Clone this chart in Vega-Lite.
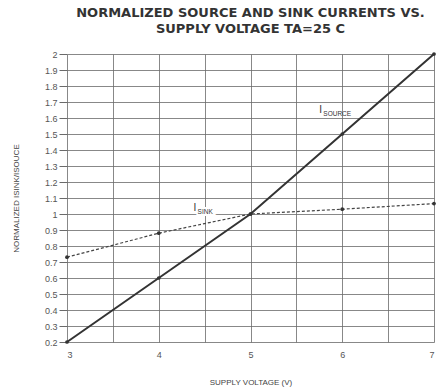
{
  "$schema": "https://vega.github.io/schema/vega-lite/v6.json",
  "width": 441,
  "height": 389,
  "autosize": {"type": "fit", "contains": "padding"},
  "padding": {"left": 12, "right": 3, "top": 7, "bottom": 3},
  "background": "white",
  "config": {
    "font": "Liberation Sans",
    "view": {"stroke": null},
    "axis": {"labelColor": "#555", "labelFontSize": 9, "titleColor": "#444", "titleFontSize": 8, "titleFontWeight": "normal", "gridColor": "#6a6a6a", "gridWidth": 0.8, "tickColor": "#6a6a6a", "domain": false, "labelOverlap": false}
  },
  "title": {
    "text": ["NORMALIZED SOURCE AND SINK CURRENTS VS.", "SUPPLY VOLTAGE TA=25 C"],
    "font": "DejaVu Sans", "fontSize": 13, "fontWeight": "bold", "color": "#333", "anchor": "middle", "frame": "group", "offset": 14, "lineHeight": 16
  },
  "datasets": {
    "curves": [
      {"v": 3, "y": 0.2, "s": "I_SOURCE"},
      {"v": 4, "y": 0.6, "s": "I_SOURCE"},
      {"v": 5, "y": 1.0, "s": "I_SOURCE"},
      {"v": 6, "y": 1.5, "s": "I_SOURCE"},
      {"v": 7, "y": 2.0, "s": "I_SOURCE"},
      {"v": 3, "y": 0.73, "s": "I_SINK"},
      {"v": 4, "y": 0.88, "s": "I_SINK"},
      {"v": 5, "y": 1.0, "s": "I_SINK"},
      {"v": 6, "y": 1.03, "s": "I_SINK"},
      {"v": 7, "y": 1.065, "s": "I_SINK"}
    ],
    "labels": [
      {"v": 5.75, "y": 1.63, "main": "I", "sub": "SOURCE"},
      {"v": 4.38, "y": 1.02, "main": "I", "sub": "SINK"}
    ]
  },
  "layer": [
    {
      "data": {"name": "curves"},
      "transform": [{"filter": "datum.s == 'I_SOURCE'"}],
      "mark": {"type": "line", "color": "#333", "strokeWidth": 2},
      "encoding": {
        "x": {"field": "v", "type": "quantitative", "scale": {"domain": [3, 7], "nice": false},
          "axis": {"title": "SUPPLY VOLTAGE (V)", "values": [3, 3.5, 4, 4.5, 5, 5.5, 6, 6.5, 7], "tickCount": 30, "format": "~g", "labelExpr": "datum.value % 1 == 0 ? datum.label : ''", "labelPadding": 8, "titlePadding": 19, "tickSize": 0}},
        "y": {"field": "y", "type": "quantitative", "scale": {"domain": [0.2, 2], "nice": false, "zero": false},
          "axis": {"title": "NORMALIZED ISINK/ISOUCE", "values": [0.2,0.3,0.4,0.5,0.6,0.7,0.8,0.9,1,1.1,1.2,1.3,1.4,1.5,1.6,1.7,1.8,1.9,2], "tickCount": 40, "format": ".2~f", "tickSize": 8, "labelPadding": 2, "titlePadding": 24}}
      }
    },
    {
      "data": {"name": "curves"},
      "transform": [{"filter": "datum.s == 'I_SINK'"}],
      "mark": {"type": "line", "color": "#444", "strokeWidth": 1.2, "strokeDash": [3, 2]},
      "encoding": {
        "x": {"field": "v", "type": "quantitative"},
        "y": {"field": "y", "type": "quantitative"}
      }
    },
    {
      "data": {"name": "curves"},
      "mark": {"type": "point", "filled": true, "color": "#333", "size": 14, "opacity": 1},
      "encoding": {
        "x": {"field": "v", "type": "quantitative"},
        "y": {"field": "y", "type": "quantitative"}
      }
    },
    {
      "data": {"name": "labels"},
      "transform": [{"filter": "datum.sub == 'SINK'"}],
      "mark": {"type": "text", "align": "left", "baseline": "alphabetic", "fontSize": 6.5, "color": "#333", "dx": 4, "dy": 3, "stroke": "white", "strokeWidth": 4, "strokeOpacity": 1},
      "encoding": {
        "x": {"field": "v", "type": "quantitative"},
        "y": {"field": "y", "type": "quantitative"},
        "text": {"field": "sub"}
      }
    },
    {
      "data": {"name": "labels"},
      "mark": {"type": "text", "align": "left", "baseline": "alphabetic", "fontSize": 10, "color": "#333"},
      "encoding": {
        "x": {"field": "v", "type": "quantitative"},
        "y": {"field": "y", "type": "quantitative"},
        "text": {"field": "main"}
      }
    },
    {
      "data": {"name": "labels"},
      "mark": {"type": "text", "align": "left", "baseline": "alphabetic", "fontSize": 6.5, "color": "#333", "dx": 4, "dy": 3},
      "encoding": {
        "x": {"field": "v", "type": "quantitative"},
        "y": {"field": "y", "type": "quantitative"},
        "text": {"field": "sub"}
      }
    }
  ]
}
